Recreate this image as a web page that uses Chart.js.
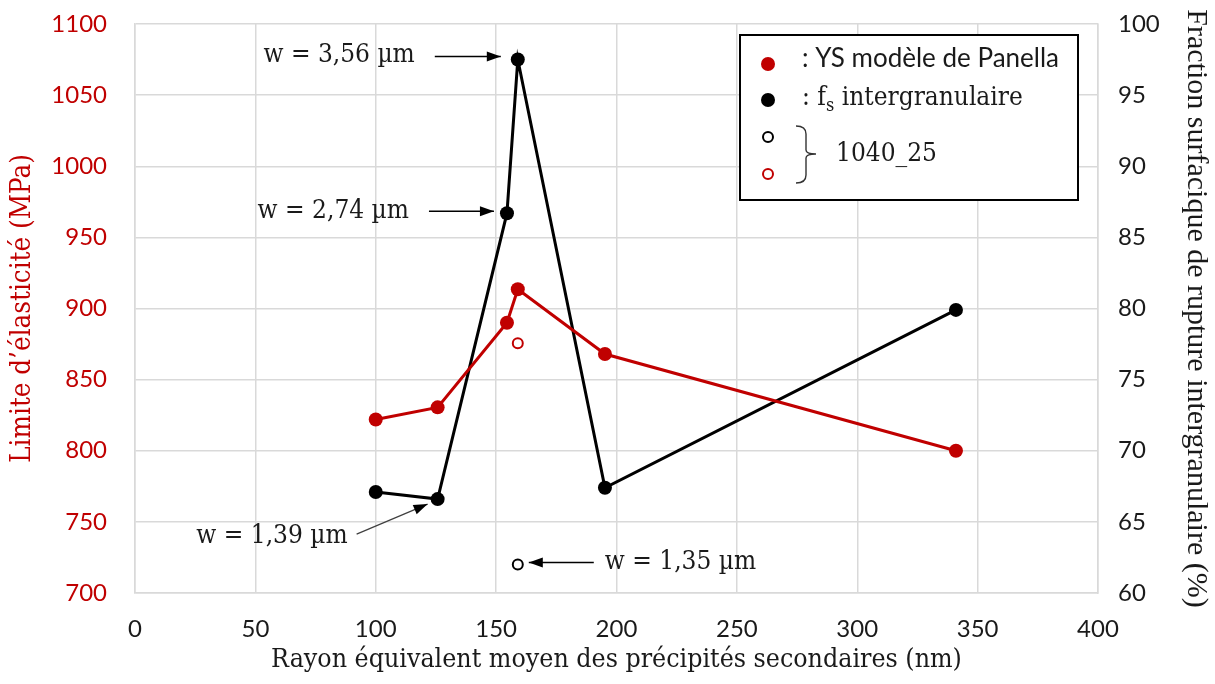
<!DOCTYPE html>
<html lang="fr">
<head>
<meta charset="utf-8">
<title>Limite d'élasticité et fraction intergranulaire</title>
<script src="https://cdn.jsdelivr.net/npm/chart.js@4.4.1/dist/chart.umd.min.js"></script>
<style>
  html, body { margin: 0; padding: 0; background: #fff; }
  #wrap { width: 1215px; height: 684px; }
</style>
</head>
<body>
<div id="wrap"><canvas id="chart" width="1215" height="684"></canvas></div>
<script>
// data ----------
const rayon = [100, 125.7, 154.5, 159, 195.2, 341];
const ysPanella = [822, 830.5, 890, 913.5, 868, 800];
const fsInter = [67.1, 66.6, 86.7, 97.5, 67.4, 79.9];

const rayon1040 = [159];
const ys1040 = [875.5];
const fs1040 = [62];

const xTicks = [0, 50, 100, 150, 200, 250, 300, 350, 400];
const ysTicks = [700, 750, 800, 850, 900, 950, 1000, 1050, 1100];
const fsTicks = [60, 65, 70, 75, 80, 85, 90, 95, 100];

const notes = ['w = 3,56 µm', 'w = 2,74 µm', 'w = 1,39 µm', 'w = 1,35 µm'];

const RED = '#C00000';
const GRID = '#d9d9d9';
const SERIF = "'DejaVu Serif Condensed', 'DejaVu Serif', 'Liberation Serif', serif";
const SANS = "Lato, 'Open Sans', sans-serif";

function pts(xs, ys) {
  return xs.map((x, i) => ({x: x, y: ys[i]}));
}

// arrows + labels, anchored on points of the chart
const notePlugin = {
  id: 'notes',
  afterDatasetsDraw(chart) {
    const ctx = chart.ctx;
    const conf = [
      {ds: 1, i: 3, tip: [-17, -3], tail: [-83, -3], side: 'right', gap: 20, dy: -1, color: '#000', lw: 1.6},
      {ds: 1, i: 2, tip: [-13, -2], tail: [-78, -2], side: 'right', gap: 20, dy: 0, color: '#000', lw: 1.6},
      {ds: 1, i: 1, tip: [-10, 5], tail: [-81, 35], side: 'right', gap: 9, dy: 2, color: '#404040', lw: 1.2},
      {ds: 3, i: 0, tip: [11, -2], tail: [76, -2], side: 'left', gap: 11, dy: 0, color: '#000', lw: 1.6}
    ];
    ctx.save();
    conf.forEach((c, k) => {
      const p = chart.getDatasetMeta(c.ds).data[c.i];
      const tx = p.x + c.tip[0], ty = p.y + c.tip[1];
      const sx = p.x + c.tail[0], sy = p.y + c.tail[1];
      ctx.strokeStyle = c.color;
      ctx.lineWidth = c.lw;
      ctx.beginPath();
      ctx.moveTo(sx, sy);
      ctx.lineTo(tx, ty);
      ctx.stroke();
      // arrow head
      const a = Math.atan2(ty - sy, tx - sx);
      const len = 14, hw = 5;
      ctx.fillStyle = '#000';
      ctx.beginPath();
      ctx.moveTo(tx, ty);
      ctx.lineTo(tx - len * Math.cos(a) + hw * Math.sin(a), ty - len * Math.sin(a) - hw * Math.cos(a));
      ctx.lineTo(tx - len * Math.cos(a) - hw * Math.sin(a), ty - len * Math.sin(a) + hw * Math.cos(a));
      ctx.closePath();
      ctx.fill();
      // label
      ctx.font = '26px ' + SERIF;
      ctx.fillStyle = '#1a1a1a';
      ctx.textBaseline = 'middle';
      if (c.side === 'right') {
        ctx.textAlign = 'right';
        ctx.fillText(notes[k], sx - c.gap, sy + c.dy);
      } else {
        ctx.textAlign = 'left';
        ctx.fillText(notes[k], sx + c.gap, sy + c.dy);
      }
    });
    ctx.restore();
  }
};

// legend box drawn by hand
const legendPlugin = {
  id: 'boxLegend',
  afterDraw(chart) {
    const ctx = chart.ctx;
    const area = chart.chartArea;
    const bx = area.right - 358, by = area.top + 11, bw = 338, bh = 165;
    ctx.save();
    ctx.fillStyle = '#fff';
    ctx.fillRect(bx, by, bw, bh);
    ctx.strokeStyle = '#000';
    ctx.lineWidth = 2;
    ctx.strokeRect(bx, by, bw, bh);

    const mx = bx + 28;
    // filled markers
    ctx.fillStyle = RED;
    ctx.beginPath(); ctx.arc(mx, by + 29, 7, 0, Math.PI * 2); ctx.fill();
    ctx.fillStyle = '#000';
    ctx.beginPath(); ctx.arc(mx, by + 65, 7, 0, Math.PI * 2); ctx.fill();
    // open markers
    ctx.lineWidth = 2;
    ctx.strokeStyle = '#000';
    ctx.beginPath(); ctx.arc(mx, by + 102, 5, 0, Math.PI * 2); ctx.stroke();
    ctx.strokeStyle = RED;
    ctx.beginPath(); ctx.arc(mx, by + 139, 5, 0, Math.PI * 2); ctx.stroke();

    ctx.fillStyle = '#1a1a1a';
    ctx.textBaseline = 'middle';
    ctx.textAlign = 'left';
    ctx.font = '26px ' + SANS;
    ctx.fillText(': YS modèle de Panella', bx + 62, by + 24);

    ctx.font = '26px ' + SERIF;
    let tx = bx + 62;
    ctx.fillText(': f', tx, by + 63);
    tx += ctx.measureText(': f').width;
    ctx.font = '18px ' + SERIF;
    ctx.fillText('s', tx, by + 71);
    tx += ctx.measureText('s').width;
    ctx.font = '26px ' + SERIF;
    ctx.fillText(' intergranulaire', tx, by + 63);

    // brace
    ctx.strokeStyle = '#333';
    ctx.lineWidth = 1.4;
    const cx = bx + 66, top = by + 91, bot = by + 148, mid = by + 119;
    ctx.beginPath();
    ctx.moveTo(cx - 10, top);
    ctx.quadraticCurveTo(cx, top, cx, top + 8);
    ctx.lineTo(cx, mid - 4);
    ctx.quadraticCurveTo(cx, mid, cx + 10, mid);
    ctx.moveTo(cx + 10, mid);
    ctx.quadraticCurveTo(cx, mid, cx, mid + 4);
    ctx.lineTo(cx, bot - 8);
    ctx.quadraticCurveTo(cx, bot, cx - 10, bot);
    ctx.stroke();
    ctx.font = '26px ' + SERIF;
    ctx.fillText('1040_25', bx + 96, by + 119);
    ctx.restore();
  }
};

const tickFont = {family: SANS, size: 24};
const plain = (v) => String(v);

// fixed box sizes so the plot area matches the original figure
function fixY(width) {
  return (s) => {
    s.width = width;
    s.paddingTop = 0;
    s.paddingBottom = 0;
  };
}

new Chart(document.getElementById('chart'), {
  type: 'scatter',
  data: {
    datasets: [
      {
        label: 'YS modèle de Panella',
        data: pts(rayon, ysPanella),
        yAxisID: 'yL',
        showLine: true,
        borderColor: RED,
        backgroundColor: RED,
        pointBackgroundColor: RED,
        borderWidth: 3,
        pointRadius: 7,
        pointBorderWidth: 0
      },
      {
        label: 'fs intergranulaire',
        data: pts(rayon, fsInter),
        yAxisID: 'yR',
        showLine: true,
        borderColor: '#000',
        backgroundColor: '#000',
        pointBackgroundColor: '#000',
        borderWidth: 3,
        pointRadius: 7,
        pointBorderWidth: 0
      },
      {
        label: '1040_25 YS',
        data: pts(rayon1040, ys1040),
        yAxisID: 'yL',
        showLine: false,
        borderColor: RED,
        pointBackgroundColor: '#fff',
        pointBorderColor: RED,
        pointBorderWidth: 2,
        pointRadius: 5
      },
      {
        label: '1040_25 fs',
        data: pts(rayon1040, fs1040),
        yAxisID: 'yR',
        showLine: false,
        borderColor: '#000',
        pointBackgroundColor: '#fff',
        pointBorderColor: '#000',
        pointBorderWidth: 2,
        pointRadius: 5
      }
    ]
  },
  options: {
    responsive: false,
    animation: false,
    layout: {padding: {top: 24, right: 0, left: 0, bottom: 0}},
    scales: {
      x: {
        type: 'linear',
        min: xTicks[0],
        max: xTicks[xTicks.length - 1],
        afterBuildTicks: (s) => { s.ticks = xTicks.map(v => ({value: v})); },
        afterFit: (s) => { s.height = 91; s.paddingLeft = 0; s.paddingRight = 0; },
        ticks: {font: tickFont, color: '#1a1a1a', padding: 22, maxRotation: 0, autoSkip: false, callback: plain},
        grid: {color: GRID, lineWidth: 1.5, drawTicks: false},
        border: {color: GRID, width: 1.5},
        title: {
          display: true,
          text: 'Rayon équivalent moyen des précipités secondaires (nm)',
          font: {family: SERIF, size: 26.5},
          color: '#1a1a1a',
          padding: {top: 0, bottom: 8}
        }
      },
      yL: {
        type: 'linear',
        position: 'left',
        min: ysTicks[0],
        max: ysTicks[ysTicks.length - 1],
        afterBuildTicks: (s) => { s.ticks = ysTicks.map(v => ({value: v})); },
        afterFit: fixY(135),
        ticks: {font: tickFont, color: RED, padding: 28, callback: plain},
        grid: {color: GRID, lineWidth: 1.5, drawTicks: false},
        border: {color: GRID, width: 1.5},
        title: {
          display: true,
          text: 'Limite d’élasticité (MPa)',
          font: {family: SERIF, size: 27.5},
          color: RED,
          padding: {top: 6, bottom: 0}
        }
      },
      yR: {
        type: 'linear',
        position: 'right',
        min: fsTicks[0],
        max: fsTicks[fsTicks.length - 1],
        afterBuildTicks: (s) => { s.ticks = fsTicks.map(v => ({value: v})); },
        afterFit: fixY(117),
        ticks: {font: tickFont, color: '#1a1a1a', padding: 20, callback: plain},
        grid: {drawOnChartArea: false, drawTicks: false},
        border: {color: GRID, width: 1.5},
        title: {
          display: true,
          text: 'Fraction surfacique de rupture intergranulaire (%)',
          font: {family: "'Liberation Serif', 'Times New Roman', serif", size: 30},
          color: '#1a1a1a',
          padding: {top: 1, bottom: 0}
        }
      }
    },
    plugins: {
      legend: {display: false},
      tooltip: {enabled: false}
    }
  },
  plugins: [notePlugin, legendPlugin]
});
</script>
</body>
</html>
